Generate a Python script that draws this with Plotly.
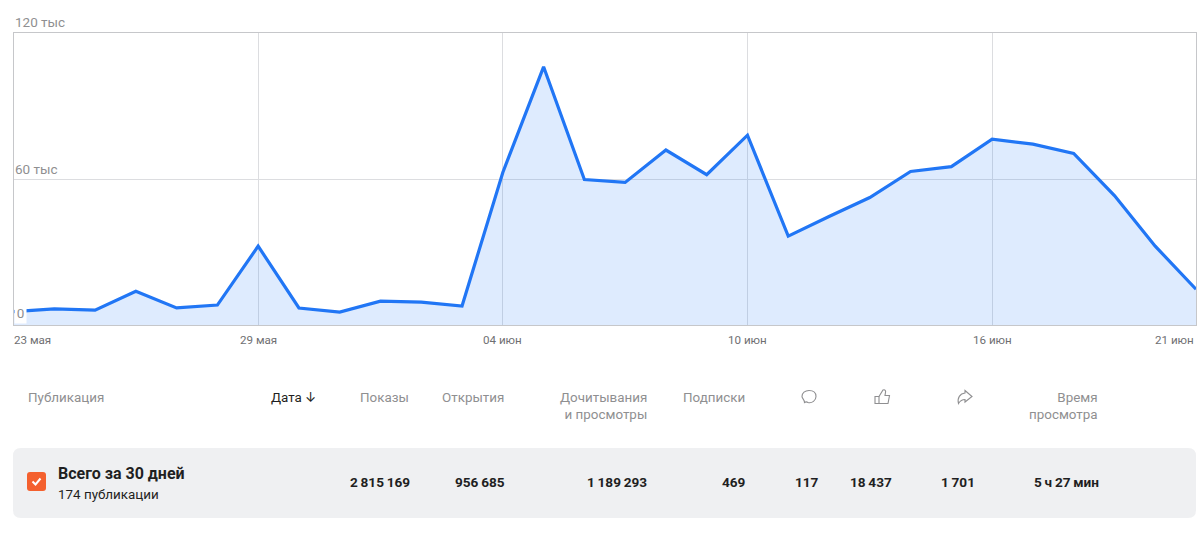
import plotly.graph_objects as go

W, H = 1200, 533
FONT = "Roboto, Inter, sans-serif"

# Daily readership for the last 30 days
dates = [
    "2024-05-23", "2024-05-24", "2024-05-25", "2024-05-26", "2024-05-27", "2024-05-28",
    "2024-05-29", "2024-05-30", "2024-05-31", "2024-06-01", "2024-06-02", "2024-06-03",
    "2024-06-04", "2024-06-05", "2024-06-06", "2024-06-07", "2024-06-08", "2024-06-09",
    "2024-06-10", "2024-06-11", "2024-06-12", "2024-06-13", "2024-06-14", "2024-06-15",
    "2024-06-16", "2024-06-17", "2024-06-18", "2024-06-19", "2024-06-20", "2024-06-21",
]
values = [
    5500, 6600, 6100, 13900, 7000, 8200,
    32400, 7000, 5300, 9800, 9400, 7800,
    62700, 106100, 59800, 58600, 71900, 61800,
    78000, 36500, 44600, 52400, 63100, 65100,
    76400, 74300, 70500, 53200, 32400, 14700,
]

x_tick_dates = ["2024-05-23", "2024-05-29", "2024-06-04", "2024-06-10", "2024-06-16", "2024-06-21"]
x_tick_labels = ["23 мая", "29 мая", "04 июн", "10 июн", "16 июн", "21 июн"]
y_tick_values = [0, 60000, 120000]
y_tick_labels = ["0", "60 тыс", "120 тыс"]

# Summary table
header_labels = ["Показы", "Открытия", "Дочитывания<br>и просмотры", "Подписки", "Время<br>просмотра"]
header_right = [410, 505, 648, 746, 1099]
total_labels = ["2\u2009815\u2009169", "956\u2009685", "1\u2009189\u2009293", "469", "117",
                "18\u2009437", "1\u2009701", "5\u2009ч\u200927\u2009мин"]
total_right = [411, 506, 648, 747, 820, 893, 976, 1100]


def px(x):
    return x / W


def py(y):
    return 1 - y / H


def path(*cmds):
    """Build an SVG path in paper coordinates from pixel-space commands."""
    out = []
    for cmd in cmds:
        letter, coords = cmd[0], cmd[1:]
        pts = [f"{px(coords[i])},{py(coords[i + 1])}" for i in range(0, len(coords), 2)]
        out.append(letter + " " + " ".join(pts))
    return " ".join(out)


def rounded_rect(x0, y0, x1, y1, r):
    return path(
        ("M", x0 + r, y0), ("L", x1 - r, y0), ("Q", x1, y0, x1, y0 + r),
        ("L", x1, y1 - r), ("Q", x1, y1, x1 - r, y1), ("L", x0 + r, y1),
        ("Q", x0, y1, x0, y1 - r), ("L", x0, y0 + r), ("Q", x0, y0, x0 + r, y0),
    ) + " Z"


def text(x, y, s, size=13.4, color="#8f8f91", anchor="left", bold=False, valign="middle"):
    return dict(
        x=px(x), y=py(y), xref="paper", yref="paper", text=f"<b>{s}</b>" if bold else s,
        showarrow=False, xanchor=anchor, yanchor=valign, align=anchor,
        font=dict(family=FONT, size=size, color=color), borderpad=0,
    )


fig = go.Figure()
fig.add_trace(go.Scatter(
    x=dates, y=values, mode="lines",
    line=dict(color="#2176f5", width=3.2, shape="linear"),
    fill="tozeroy", fillcolor="rgba(33,118,245,0.15)",
    hoverinfo="skip",
))

annotations = []

# Axis captions sit just inside the plot edges, so they are placed by hand
for value, label in zip(y_tick_values, y_tick_labels):
    if value == 0:
        annotations.append(dict(
            x=dates[0], y=value, xref="x", yref="y", text=label, showarrow=False,
            xanchor="left", yanchor="bottom", yshift=1, xshift=0,
            width=9, height=18, align="center", valign="middle",
            font=dict(family=FONT, size=13.5, color="#8f8f91"),
            bgcolor="#ffffff", borderpad=1,
        ))
    else:
        annotations.append(dict(
            x=dates[0], y=value, xref="x", yref="y", text=label, showarrow=False,
            xanchor="left", yanchor="bottom", yshift=1 if value == 120000 else 0, xshift=-1,
            font=dict(family=FONT, size=13.5, color="#8f8f91"),
        ))

for i, (date, label) in enumerate(zip(x_tick_dates, x_tick_labels)):
    anchor = "left" if i == 0 else "right" if i == len(x_tick_dates) - 1 else "center"
    annotations.append(dict(
        x=date, y=py(340), xref="x", yref="paper", text=label, showarrow=False,
        xanchor=anchor, yanchor="middle", xshift=-2 if i == 0 else 0,
        font=dict(family=FONT, size=11.6, color="#6f6f72"),
    ))

# Table header
annotations.append(text(27, 397, "Публикация"))
annotations.append(text(270, 397, "Дата", color="#1f1f22"))
annotations.append(text(304, 397, "↓", color="#1f1f22"))
for label, right in zip(header_labels, header_right):
    annotations.append(text(right, 405.5 if "<br>" in label else 397, label, anchor="right"))

# Totals row
annotations.append(text(57, 473.5, "Всего за 30 дней", size=16, color="#1f1f22", bold=True))
annotations.append(text(57, 494, "174 публикации", size=13.4, color="#1f1f22"))
for label, right in zip(total_labels, total_right):
    annotations.append(text(right, 481.5, label, size=13.6, color="#1f1f22", anchor="right", bold=True))

icon_line = dict(color="#8f8f91", width=1.1)
shapes = [
    # Totals row background
    dict(type="path", path=rounded_rect(13, 448, 1196, 518, 8), xref="paper", yref="paper",
         fillcolor="#eff0f2", line=dict(width=0), layer="below"),
    # Checkbox with its tick
    dict(type="path", path=rounded_rect(27, 472, 46, 491, 3), xref="paper", yref="paper",
         fillcolor="#f4602e", line=dict(width=0)),
    dict(type="path", path=path(("M", 32.5, 481.5), ("L", 35.5, 484.5), ("L", 40.5, 478.5)),
         xref="paper", yref="paper", line=dict(color="#ffffff", width=2)),
    # Comment icon
    dict(type="path", xref="paper", yref="paper", line=icon_line, path=path(
        ("M", 804.5, 402.5), ("C", 806, 401.5, 806.5, 401.5, 808, 402.5),
        ("C", 812, 403.5, 816, 400.5, 816, 396.5), ("C", 816, 392.5, 813, 390.5, 809, 390.5),
        ("C", 805, 390.5, 802, 393, 802, 396.5), ("C", 802, 398.5, 804.5, 399.5, 804.5, 402.5),
    ) + " Z"),
    # Thumbs-up icon
    dict(type="path", xref="paper", yref="paper", line=icon_line, path=path(
        ("M", 875, 396.5), ("L", 879, 396.5), ("L", 879, 403.5), ("L", 875, 403.5),
    ) + " Z"),
    dict(type="path", xref="paper", yref="paper", line=icon_line, path=path(
        ("M", 879, 396.5), ("L", 883, 390), ("C", 885, 389, 886, 391, 885.5, 392.5),
        ("L", 885, 395.5), ("L", 889.5, 395.5), ("L", 888, 403.5), ("L", 879, 403.5),
    )),
    # Share icon
    dict(type="path", xref="paper", yref="paper", line=icon_line, path=path(
        ("M", 965, 390.5), ("L", 972, 396.5), ("L", 965, 402), ("L", 965, 399.5),
        ("C", 962, 399.5, 960, 401, 958.5, 403.5), ("C", 957, 398, 960, 393.5, 965, 393),
    ) + " Z"),
]

fig.update_layout(
    width=W, height=H,
    margin=dict(l=0, r=0, t=0, b=0),
    paper_bgcolor="#ffffff", plot_bgcolor="#ffffff",
    showlegend=False,
    xaxis=dict(
        domain=[px(13.5), px(1196)], type="date", range=[dates[0], dates[-1]],
        tickvals=x_tick_dates, showticklabels=False, ticks="",
        showgrid=True, gridcolor="#dcdde0", gridwidth=1,
        showline=True, linecolor="#c6c7ca", linewidth=1, mirror=True, zeroline=False,
    ),
    yaxis=dict(
        domain=[py(325), py(33)], range=[0, 120000],
        tickvals=y_tick_values, showticklabels=False, ticks="",
        showgrid=True, gridcolor="#dcdde0", gridwidth=1,
        showline=True, linecolor="#c6c7ca", linewidth=1, mirror=True, zeroline=False,
    ),
    annotations=annotations,
    shapes=shapes,
)

fig.write_html("out.html")
